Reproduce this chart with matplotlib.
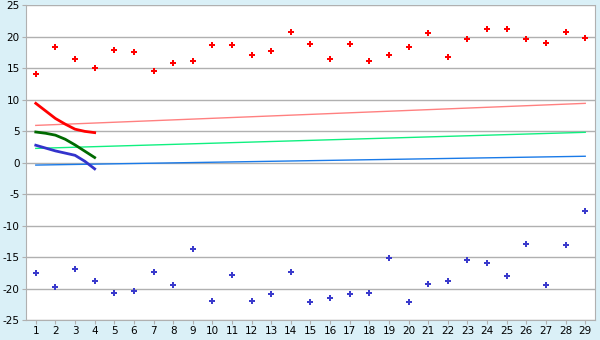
import matplotlib
matplotlib.use("Agg")
import matplotlib.pyplot as plt
import numpy as np

plt.rcParams["axes.unicode_minus"] = False

# x positions
days = np.arange(1, 30)

# scatter series
high = [14.0, 18.3, 16.5, 14.95, 17.8, 17.5, 14.5, 15.8, 16.05, 18.6,
        18.6, 17.0, 17.65, 20.8, 18.75, 16.5, 18.75, 16.2, 17.0, 18.3,
        20.5, 16.7, 19.55, 21.15, 21.15, 19.55, 19.05, 20.8, 19.85]
low = [-17.6, -19.8, -16.95, -18.85, -20.75, -20.45, -17.4, -19.5, -13.8, -22.05,
       -17.9, -22.05, -20.9, -17.3, -22.2, -21.55, -20.9, -20.75, -15.2, -22.2,
       -19.35, -18.85, -15.5, -16.0, -18.05, -13.0, -19.5, -13.15, -7.75]

# short thick curves (first four days)
curve_x = [1, 1.5, 2, 2.5, 3, 3.5, 4]
curve_red = [9.4, 8.2, 7.0, 6.1, 5.3, 4.95, 4.75]
curve_green = [4.85, 4.65, 4.35, 3.7, 2.8, 1.8, 0.8]
curve_blue = [2.75, 2.3, 1.85, 1.5, 1.15, 0.2, -1.0]

# thin trend lines (start / end)
trend_x = [1, 29]
trend_pink = [5.9, 9.4]
trend_green = [2.25, 4.8]
trend_blue = [-0.4, 1.0]

fig = plt.figure(figsize=(6, 3.4), dpi=100, facecolor="#daf0f7")
ax = fig.add_axes([0.0433, 0.0588, 0.9484, 0.9262])
ax.set_facecolor("white")

ax.plot(trend_x, trend_pink, color="#ff8080", lw=1)
ax.plot(trend_x, trend_green, color="#10f080", lw=1)
ax.plot(trend_x, trend_blue, color="#1a7ae8", lw=1)

ax.plot(curve_x, curve_red, color="#ff0000", lw=2)
ax.plot(curve_x, curve_green, color="#006a00", lw=2)
ax.plot(curve_x, curve_blue, color="#3333cc", lw=2)

ax.scatter(days, high, marker="P", s=18, color="#ff0000", linewidths=0, zorder=3)
ax.scatter(days, low, marker="P", s=14, color="#3a3acc", linewidths=0, zorder=3)

ax.set_xlim(0.5, 29.5)
ax.set_ylim(-25, 25)
ax.set_xticks(days)
ax.set_yticks(np.arange(-25, 26, 5))
ax.yaxis.grid(True, color="#b0b0b0", lw=1)
ax.set_axisbelow(True)
for s in ax.spines.values():
    s.set_color("#b0b0b0")
ax.spines["top"].set_visible(False)
ax.tick_params(colors="#b0b0b0", labelcolor="black", labelsize=7.5, length=3, pad=1.5)

fig.savefig("out.png", dpi=100, facecolor=fig.get_facecolor())
